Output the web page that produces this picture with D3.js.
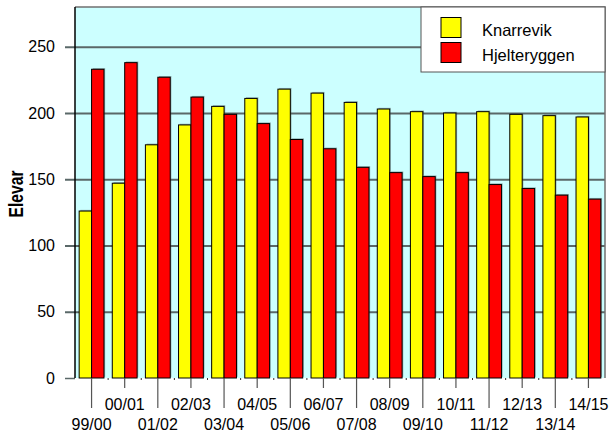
<!DOCTYPE html>
<html>
<head>
<meta charset="utf-8">
<script src="https://d3js.org/d3.v7.min.js"></script>
<style>
  body { margin: 0; background: #fff; }
  text { font-family: "Liberation Sans", Arial, sans-serif; }
</style>
</head>
<body>
<div id="chart-area"></div>
<script>
// school years and pupil counts per school
var years = ["99/00", "00/01", "01/02", "02/03", "03/04", "04/05", "05/06", "06/07",
             "07/08", "08/09", "09/10", "10/11", "11/12", "12/13", "13/14", "14/15"];
var seriesNames = ["Knarrevik", "Hjelteryggen"];
var knarrevik = [126, 147, 176, 191, 205, 211, 218, 215, 208, 203, 201, 200, 201, 199, 198, 197];
var hjelteryggen = [233, 238, 227, 212, 199, 192, 180, 173, 159, 155, 152, 155, 146, 143, 138, 135];
var yTicks = [0, 50, 100, 150, 200, 250];
var seriesColors = ["#ffff00", "#ff0000"];

var width = 611, height = 432;
// note: "top" is reserved on window, so plot* names
var plotLeft = 75, plotRight = 605, plotTop = 7, plotBottom = 378;

var svg = d3.select("#chart-area")
            .append("svg")
              .attr("width", width)
              .attr("height", height);

var x = d3.scaleBand()
  .domain(years)
  .range([plotLeft, plotRight]);

var xSub = d3.scaleBand()
  .domain(seriesNames)
  .range([0, x.bandwidth()])
  .paddingOuter(0.335);

var y = d3.scaleLinear()
  .domain([0, 280])
  .range([plotBottom, plotTop]);

var color = d3.scaleOrdinal()
  .domain(seriesNames)
  .range(seriesColors);

// plot background
svg.append("rect")
  .attr("x", plotLeft)
  .attr("y", plotTop)
  .attr("width", plotRight - plotLeft)
  .attr("height", plotBottom - plotTop)
  .attr("fill", "#ccffff");

// gridlines + left ticks
var yAxis = svg.append("g")
  .attr("transform", "translate(" + plotLeft + ",0)")
  .call(d3.axisLeft(y).tickValues(yTicks).tickSize(10).tickPadding(10));
yAxis.select(".domain").remove();
yAxis.selectAll(".tick line")
  .attr("x2", function(d) { return d === 0 ? 0 : plotRight - plotLeft; })
  .attr("x1", -10)
  .attr("stroke", "#5a6868")
  .attr("stroke-width", function(d) { return d === 0 ? 1.5 : 2; });
yAxis.selectAll(".tick text")
  .attr("font-size", 16)
  .attr("fill", "#000")
  .attr("font-family", "Liberation Sans, Arial, sans-serif");

// border: gray top/right, black left
svg.append("path")
  .attr("d", "M" + plotLeft + "," + plotTop + "H" + plotRight + "V" + plotBottom)
  .attr("fill", "none")
  .attr("stroke", "#707070")
  .attr("stroke-width", 1.5);
svg.append("line")
  .attr("x1", plotLeft).attr("x2", plotLeft)
  .attr("y1", plotTop).attr("y2", plotBottom)
  .attr("stroke", "#000")
  .attr("stroke-width", 1.5);

var rows = years.map(function(yr, i) {
  return { year: yr, values: [knarrevik[i], hjelteryggen[i]] };
});

var groups = svg.selectAll("g.year")
  .data(rows)
  .enter()
  .append("g")
    .attr("class", "year")
    .attr("transform", function(d) { return "translate(" + x(d.year) + ",0)"; });

var bars = groups.selectAll("g.bar")
  .data(function(d) {
    return d.values.map(function(v, j) { return { name: seriesNames[j], value: v }; });
  })
  .enter()
  .append("g")
    .attr("class", "bar");

// soft shadow behind each bar
bars.append("rect")
  .attr("x", function(d) { return xSub(d.name) + 1.2; })
  .attr("y", function(d) { return y(d.value) - 1.2; })
  .attr("width", xSub.bandwidth())
  .attr("height", function(d) { return plotBottom - y(d.value); })
  .attr("fill", "#445555")
  .attr("opacity", 0.45);

bars.append("rect")
  .attr("x", function(d) { return xSub(d.name); })
  .attr("y", function(d) { return y(d.value); })
  .attr("width", xSub.bandwidth())
  .attr("height", function(d) { return plotBottom - y(d.value); })
  .attr("fill", function(d) { return color(d.name); })
  .attr("stroke", "#000")
  .attr("stroke-width", 1);

// x ticks: small at band edges, long/short alternating at centres
var xt = svg.append("g");
d3.range(1, years.length).forEach(function(i) {
  var bx = plotLeft + x.step() * i;
  xt.append("line")
    .attr("x1", bx).attr("x2", bx)
    .attr("y1", plotBottom).attr("y2", plotBottom + 2)
    .attr("stroke", "#333");
});
xt.selectAll("line.cat")
  .data(years)
  .enter()
  .append("line")
    .attr("class", "cat")
    .attr("x1", function(d) { return x(d) + x.bandwidth() / 2; })
    .attr("x2", function(d) { return x(d) + x.bandwidth() / 2; })
    .attr("y1", plotBottom)
    .attr("y2", function(d, i) { return i % 2 === 0 ? 408 : 388; })
    .attr("stroke", "#555")
    .attr("stroke-width", 1.2);
xt.selectAll("text")
  .data(years)
  .enter()
  .append("text")
    .attr("x", function(d) { return x(d) + x.bandwidth() / 2; })
    .attr("y", function(d, i) { return i % 2 === 0 ? 430 : 410; })
    .attr("text-anchor", "middle")
    .attr("font-size", 16)
    .text(function(d) { return d; });

// y axis title
svg.append("text")
  .attr("transform", "translate(23,194) rotate(-90)")
  .attr("text-anchor", "middle")
  .attr("font-size", 20)
  .attr("font-weight", "bold")
  .attr("textLength", 47)
  .attr("lengthAdjust", "spacingAndGlyphs")
  .text("Elevar");

// legend
var legend = svg.append("g");
legend.append("rect")
  .attr("x", 421)
  .attr("y", plotTop)
  .attr("width", plotRight - 421)
  .attr("height", 65)
  .attr("fill", "#fff")
  .attr("stroke", "#555")
  .attr("stroke-width", 1);

var items = legend.selectAll("g.item")
  .data(seriesNames)
  .enter()
  .append("g")
    .attr("class", "item")
    .attr("transform", function(d, i) { return "translate(441," + (17.5 + i * 25) + ")"; });
items.append("rect")
  .attr("width", 20)
  .attr("height", 20)
  .attr("fill", function(d) { return color(d); })
  .attr("stroke", "#000");
items.append("text")
  .attr("x", 41)
  .attr("y", 18.5)
  .attr("font-size", 16.5)
  .text(function(d) { return d; });
</script>
</body>
</html>
